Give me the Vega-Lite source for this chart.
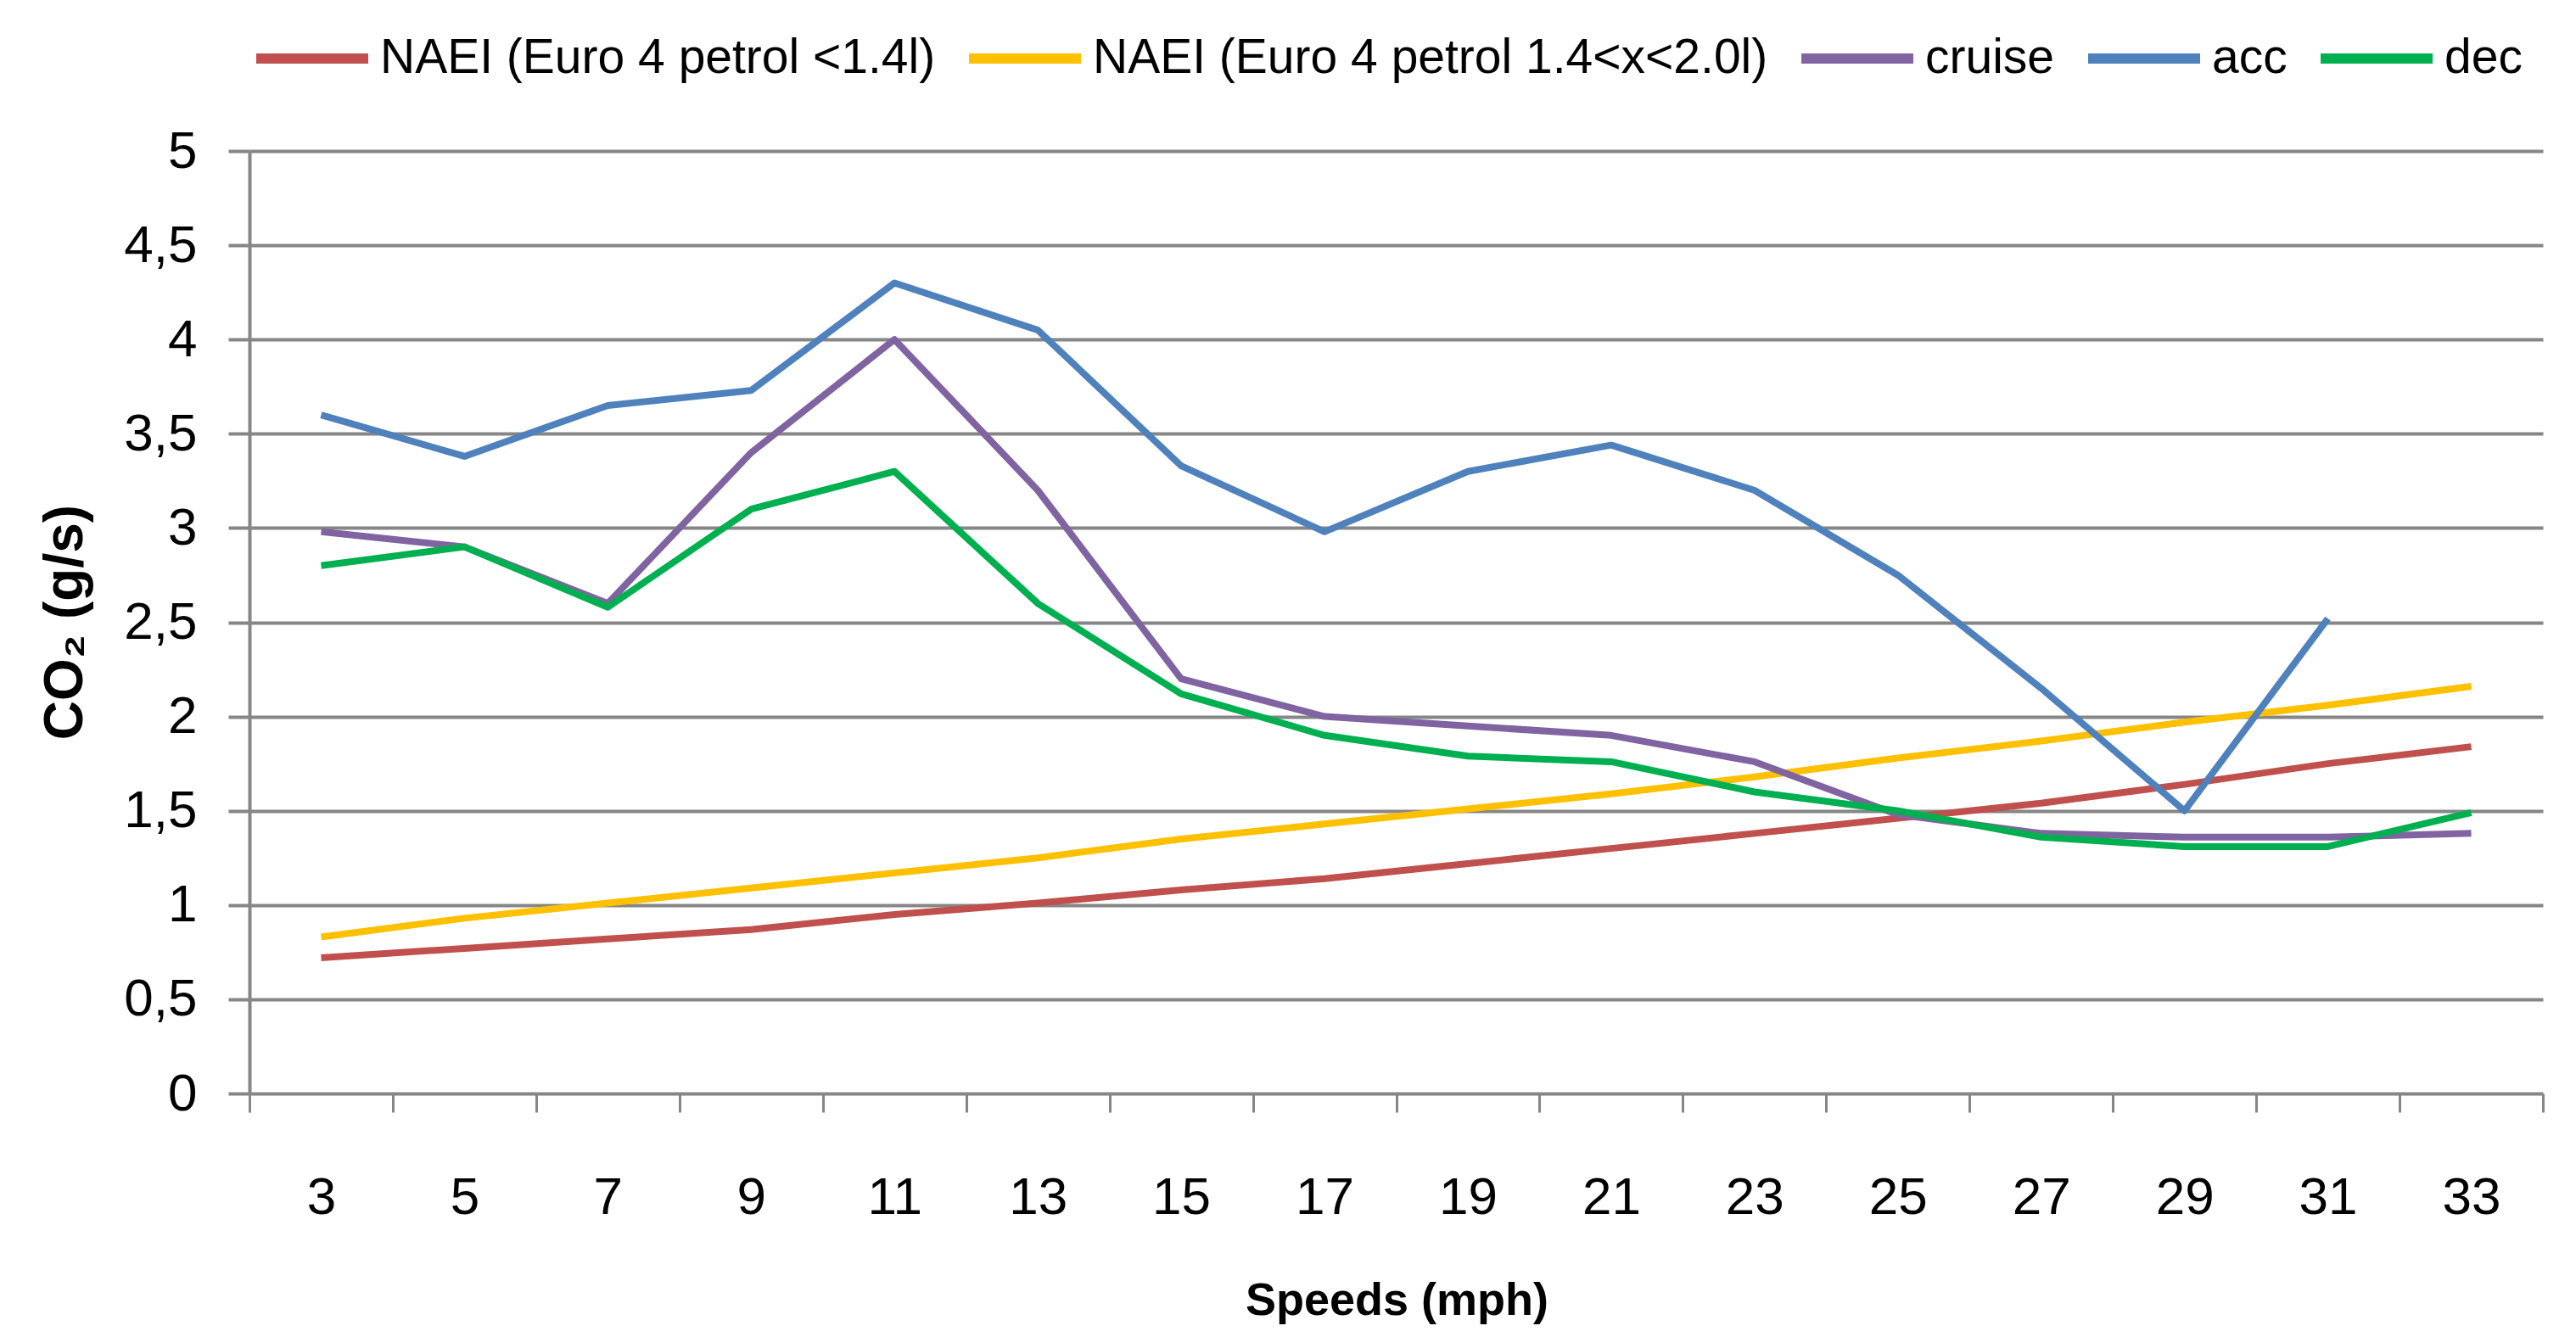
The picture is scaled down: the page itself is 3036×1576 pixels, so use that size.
{
  "$schema": "https://vega.github.io/schema/vega-lite/v6.json",
  "width": 2703,
  "height": 1111,
  "autosize": {"type": "none"},
  "padding": {"left": 294, "top": 178, "right": 39, "bottom": 287},
  "background": "white",
  "config": {
    "view": {"stroke": null},
    "font": "Liberation Sans"
  },
  "data": {
    "values": [
      {"speed": 3, "series": "NAEI (Euro 4 petrol <1.4l)", "co2": 0.72},
      {"speed": 5, "series": "NAEI (Euro 4 petrol <1.4l)", "co2": 0.77},
      {"speed": 7, "series": "NAEI (Euro 4 petrol <1.4l)", "co2": 0.82},
      {"speed": 9, "series": "NAEI (Euro 4 petrol <1.4l)", "co2": 0.87},
      {"speed": 11, "series": "NAEI (Euro 4 petrol <1.4l)", "co2": 0.95},
      {"speed": 13, "series": "NAEI (Euro 4 petrol <1.4l)", "co2": 1.01},
      {"speed": 15, "series": "NAEI (Euro 4 petrol <1.4l)", "co2": 1.08},
      {"speed": 17, "series": "NAEI (Euro 4 petrol <1.4l)", "co2": 1.14},
      {"speed": 19, "series": "NAEI (Euro 4 petrol <1.4l)", "co2": 1.22},
      {"speed": 21, "series": "NAEI (Euro 4 petrol <1.4l)", "co2": 1.30},
      {"speed": 23, "series": "NAEI (Euro 4 petrol <1.4l)", "co2": 1.38},
      {"speed": 25, "series": "NAEI (Euro 4 petrol <1.4l)", "co2": 1.46},
      {"speed": 27, "series": "NAEI (Euro 4 petrol <1.4l)", "co2": 1.54},
      {"speed": 29, "series": "NAEI (Euro 4 petrol <1.4l)", "co2": 1.64},
      {"speed": 31, "series": "NAEI (Euro 4 petrol <1.4l)", "co2": 1.75},
      {"speed": 33, "series": "NAEI (Euro 4 petrol <1.4l)", "co2": 1.84},
      {"speed": 3, "series": "NAEI (Euro 4 petrol 1.4<x<2.0l)", "co2": 0.83},
      {"speed": 5, "series": "NAEI (Euro 4 petrol 1.4<x<2.0l)", "co2": 0.93},
      {"speed": 7, "series": "NAEI (Euro 4 petrol 1.4<x<2.0l)", "co2": 1.01},
      {"speed": 9, "series": "NAEI (Euro 4 petrol 1.4<x<2.0l)", "co2": 1.09},
      {"speed": 11, "series": "NAEI (Euro 4 petrol 1.4<x<2.0l)", "co2": 1.17},
      {"speed": 13, "series": "NAEI (Euro 4 petrol 1.4<x<2.0l)", "co2": 1.25},
      {"speed": 15, "series": "NAEI (Euro 4 petrol 1.4<x<2.0l)", "co2": 1.35},
      {"speed": 17, "series": "NAEI (Euro 4 petrol 1.4<x<2.0l)", "co2": 1.43},
      {"speed": 19, "series": "NAEI (Euro 4 petrol 1.4<x<2.0l)", "co2": 1.51},
      {"speed": 21, "series": "NAEI (Euro 4 petrol 1.4<x<2.0l)", "co2": 1.59},
      {"speed": 23, "series": "NAEI (Euro 4 petrol 1.4<x<2.0l)", "co2": 1.68},
      {"speed": 25, "series": "NAEI (Euro 4 petrol 1.4<x<2.0l)", "co2": 1.78},
      {"speed": 27, "series": "NAEI (Euro 4 petrol 1.4<x<2.0l)", "co2": 1.87},
      {"speed": 29, "series": "NAEI (Euro 4 petrol 1.4<x<2.0l)", "co2": 1.97},
      {"speed": 31, "series": "NAEI (Euro 4 petrol 1.4<x<2.0l)", "co2": 2.06},
      {"speed": 33, "series": "NAEI (Euro 4 petrol 1.4<x<2.0l)", "co2": 2.16},
      {"speed": 3, "series": "cruise", "co2": 2.98},
      {"speed": 5, "series": "cruise", "co2": 2.9},
      {"speed": 7, "series": "cruise", "co2": 2.6},
      {"speed": 9, "series": "cruise", "co2": 3.4},
      {"speed": 11, "series": "cruise", "co2": 4.0},
      {"speed": 13, "series": "cruise", "co2": 3.2},
      {"speed": 15, "series": "cruise", "co2": 2.2},
      {"speed": 17, "series": "cruise", "co2": 2.0},
      {"speed": 19, "series": "cruise", "co2": 1.95},
      {"speed": 21, "series": "cruise", "co2": 1.9},
      {"speed": 23, "series": "cruise", "co2": 1.76},
      {"speed": 25, "series": "cruise", "co2": 1.48},
      {"speed": 27, "series": "cruise", "co2": 1.38},
      {"speed": 29, "series": "cruise", "co2": 1.36},
      {"speed": 31, "series": "cruise", "co2": 1.36},
      {"speed": 33, "series": "cruise", "co2": 1.38},
      {"speed": 3, "series": "acc", "co2": 3.6},
      {"speed": 5, "series": "acc", "co2": 3.38},
      {"speed": 7, "series": "acc", "co2": 3.65},
      {"speed": 9, "series": "acc", "co2": 3.73},
      {"speed": 11, "series": "acc", "co2": 4.3},
      {"speed": 13, "series": "acc", "co2": 4.05},
      {"speed": 15, "series": "acc", "co2": 3.33},
      {"speed": 17, "series": "acc", "co2": 2.98},
      {"speed": 19, "series": "acc", "co2": 3.3},
      {"speed": 21, "series": "acc", "co2": 3.44},
      {"speed": 23, "series": "acc", "co2": 3.2},
      {"speed": 25, "series": "acc", "co2": 2.75},
      {"speed": 27, "series": "acc", "co2": 2.15},
      {"speed": 29, "series": "acc", "co2": 1.5},
      {"speed": 31, "series": "acc", "co2": 2.52},
      {"speed": 3, "series": "dec", "co2": 2.8},
      {"speed": 5, "series": "dec", "co2": 2.9},
      {"speed": 7, "series": "dec", "co2": 2.58},
      {"speed": 9, "series": "dec", "co2": 3.1},
      {"speed": 11, "series": "dec", "co2": 3.3},
      {"speed": 13, "series": "dec", "co2": 2.6},
      {"speed": 15, "series": "dec", "co2": 2.12},
      {"speed": 17, "series": "dec", "co2": 1.9},
      {"speed": 19, "series": "dec", "co2": 1.79},
      {"speed": 21, "series": "dec", "co2": 1.76},
      {"speed": 23, "series": "dec", "co2": 1.6},
      {"speed": 25, "series": "dec", "co2": 1.5},
      {"speed": 27, "series": "dec", "co2": 1.36},
      {"speed": 29, "series": "dec", "co2": 1.31},
      {"speed": 31, "series": "dec", "co2": 1.31},
      {"speed": 33, "series": "dec", "co2": 1.49}
    ]
  },
  "encoding": {
    "y": {
      "field": "co2",
      "type": "quantitative",
      "scale": {"domain": [0, 5], "nice": false, "zero": true},
      "axis": {
        "values": [0, 0.5, 1, 1.5, 2, 2.5, 3, 3.5, 4, 4.5, 5],
        "labelExpr": "replace(format(datum.value, '.1~f'), '.', ',')",
        "title": "CO₂  (g/s)",
        "titleFont": "Liberation Sans",
        "titleFontWeight": "bold",
        "titleFontSize": 64,
        "titleColor": "black",
        "titleAngle": -90,
        "titleX": -217,
        "titleY": 555,
        "titleAlign": "center",
        "titleBaseline": "middle",
        "labelFont": "Liberation Sans",
        "labelFontSize": 62,
        "labelColor": "black",
        "labelPadding": 37,
        "grid": true,
        "gridColor": "#868686",
        "gridWidth": 4,
        "domain": true,
        "domainColor": "#868686",
        "domainWidth": 4,
        "ticks": true,
        "tickColor": "#868686",
        "tickWidth": 4,
        "tickSize": 25
      }
    }
  },
  "layer": [
    {
      "mark": {"type": "point", "opacity": 0},
      "encoding": {
        "x": {
          "field": "speed",
          "type": "quantitative",
          "scale": {"domain": [2, 34], "nice": false, "zero": false},
          "axis": {
            "values": [2, 4, 6, 8, 10, 12, 14, 16, 18, 20, 22, 24, 26, 28, 30, 32, 34],
            "labels": false,
            "title": null,
            "grid": false,
            "domain": false,
            "ticks": true,
            "tickColor": "#868686",
            "tickWidth": 3,
            "tickSize": 22,
            "orient": "bottom"
          }
        }
      }
    },
    {
      "mark": {"type": "line", "strokeWidth": 8, "strokeJoin": "round"},
      "encoding": {
        "x": {
          "field": "speed",
          "type": "quantitative",
          "scale": {"domain": [2, 34], "nice": false, "zero": false},
          "axis": {
            "values": [3, 5, 7, 9, 11, 13, 15, 17, 19, 21, 23, 25, 27, 29, 31, 33],
            "format": "d",
            "orient": "bottom",
            "grid": false,
            "domain": false,
            "ticks": false,
            "labelFont": "Liberation Sans",
            "labelFontSize": 62,
            "labelColor": "black",
            "labelPadding": 92,
            "title": "Speeds (mph)",
            "titleFont": "Liberation Sans",
            "titleFontWeight": "bold",
            "titleFontSize": 54,
            "titleColor": "black",
            "titleX": 1352,
            "titleY": 244,
            "titleAlign": "center",
            "titleBaseline": "middle"
          }
        },
        "color": {
          "field": "series",
          "type": "nominal",
          "scale": {
            "domain": ["NAEI (Euro 4 petrol <1.4l)", "NAEI (Euro 4 petrol 1.4<x<2.0l)", "cruise", "acc", "dec"],
            "range": ["#C0504D", "#FFC000", "#8064A2", "#4F81BD", "#00B050"]
          },
          "legend": {
            "orient": "none",
            "direction": "horizontal",
            "legendX": 2,
            "legendY": -181,
            "title": null,
            "symbolType": "stroke",
            "symbolSize": 17424,
            "symbolStrokeWidth": 12,
            "labelFont": "Liberation Sans",
            "labelFontSize": 57,
            "labelColor": "black",
            "labelOffset": 8,
            "columnPadding": 15,
            "labelLimit": 1200
          }
        }
      }
    }
  ],
  "resolve": {"axis": {"x": "independent"}}
}
